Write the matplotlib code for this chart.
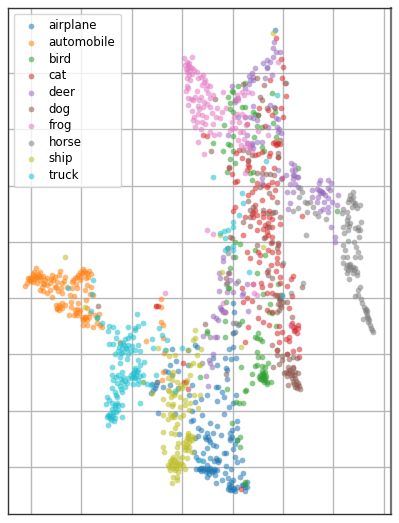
import matplotlib
matplotlib.use('Agg')
import matplotlib.pyplot as plt
import numpy as np

class_names = ['airplane', 'automobile', 'bird', 'cat', 'deer', 'dog', 'frog', 'horse', 'ship', 'truck']

airplane = [(202,164),(203,155),(202,134),(204,135),(198,118),(202,120),(194,109),(200,108),(205,109),(182,109),
    (195,99),(196,97),(186,102),(196,88),(185,80),(187,80),(191,75),(193,70),(186,66),(176,72),(170,68),(205,72),
    (202,64),(198,60),(193,53),(171,52),(179,44),(186,41),(206,46),(206,39),(201,37),(199,34),(170,37),(176,34),
    (182,34),(190,32),(174,30),(178,27),(182,22),(185,21),(199,27),(204,23),(206,27),(202,18),(193,14),(195,14),
    (176,19),(172,14),(179,9),(186,7),(187,5),(172,6),(176,2),(179,-1),(204,10),(206,5),(211,7),(195,1),(172,-3),
    (177,-4),(182,-4),(186,-3),(200,-2),(176,-10),(184,-8),(191,-13),(194,-6),(197,-11),(202,-13),(209,-10),
    (212,-6),(216,-15),(198,-20),(201,-23),(206,-20),(211,-18),(214,-24),(185,-16),(168,-2),(170,-4),(174,-2),
    (175,-5),(180,-3),(183,-2),(178,-7),(198,-17),(200,-19),(203,-22),(197,-22),(141,118),(164,122),(166,120),
    (157,117),(145,106),(139,102),(157,102),(134,96),(137,95),(147,96),(141,92),(126,85),(121,83),(125,82),
    (124,79),(132,80),(139,82),(147,79),(161,82),(122,77),(120,74),(158,72),(164,65),(127,54),(144,53),(161,56),
    (162,47),(160,46),(167,39),(148,33),(164,29),(167,31),(163,15),(165,10),(167,7),(165,-2),(169,-2),(244,437),
    (170,-1),(172,-1),(176,-2),(178,-2),(181,-5),(184,-3),(200,-15),(199,-23),(202,-21),(204,-24),(183,6),(185,9),
    (188,7),(199,29),(201,30),(175,28),(177,30),(179,25),(212,-18),(214,-20),(216,-20)]

automobile = [(5,199),(2,193),(7,193),(12,191),(1,190),(5,189),(-2,187),(-4,184),(-6,181),(9,187),(14,187),(6,184),
    (2,185),(11,180),(9,177),(16,182),(21,192),(29,196),(28,192),(34,190),(22,187),(19,184),(26,185),(31,184),
    (24,180),(19,177),(16,174),(27,176),(21,170),(31,174),(41,185),(44,189),(47,192),(52,198),(56,194),(60,193),
    (51,194),(49,187),(46,179),(41,179),(39,172),(43,171),(55,189),(56,182),(54,177),(60,180),(62,172),(59,173),
    (31,164),(34,162),(26,159),(28,157),(31,159),(40,165),(47,164),(46,158),(49,157),(45,154),(38,152),(43,152),
    (55,167),(56,159),(54,150),(56,147),(52,142),(56,142),(62,140),(59,154),(64,152),(68,153),(66,144),(71,140),
    (69,142),(130,168),(125,161),(130,160),(130,145),(132,142),(115,126),(132,129),(89,125),(133,114),(132,95),
    (131,87),(-1,189),(4,191),(8,191),(16,189),(54,194),(57,190),(26,158),(52,147),(55,150),(36,180),(12,184),(24,190),
    (3,195),(9,195),(6,190),(10,190),(0,186),(-3,189),(3,188),(13,183),(20,188),(25,180),(30,179),(33,186),(42,187),
    (45,183),(50,190),(53,196),(58,196),(49,195),(46,190),(28,162),(29,160),(25,162),(44,157),(46,152),(48,155),
    (51,150),(53,148),(58,150),(40,160),(12,176)]

bird = [(226,115),(227,110),(231,110),(224,101),(226,102),(231,101),(234,100),(237,104),(229,92),(232,94),(234,95),
    (232,90),(234,89),(233,85),(236,85),(240,85),(228,90),(221,93),(221,84),(215,77),(214,76),(210,100),(205,65),
    (208,64),(212,64),(201,44),(209,30),(206,27),(209,20),(214,-15),(214,-17),(169,90),(196,78),(194,130),(224,130),
    (227,134),(226,129),(229,128),(231,126),(245,141),(211,146),(208,143),(194,146),(176,136),(176,134),(238,155),
    (241,154),(232,173),(239,163),(226,194),(247,183),(199,199),(197,179),(195,165),(194,155),(198,179),(201,376),
    (207,381),(202,375),(204,367),(199,364),(197,370),(214,384),(202,355),(211,360),(214,360),(199,358),(222,355),
    (224,353),(227,352),(244,355),(241,374),(242,344),(193,342),(226,341),(231,340),(202,331),(182,324),(197,323),
    (199,322),(192,316),(202,316),(204,304),(223,330),(231,320),(233,316),(245,330),(199,308),(196,295),(221,287),
    (219,294),(222,295),(267,299),(306,256),(204,225),(209,223),(224,217),(234,212),(204,210),(66,149),(112,85),
    (231,92),(233,92),(230,88),(232,87),(234,87),(236,83),(235,91),(231,96),(229,88)]

cat = [(245,429),(250,408),(252,400),(251,389),(254,384),(255,371),(239,387),(228,359),(250,359),(237,357),(241,352),
    (252,350),(234,341),(216,343),(242,324),(246,323),(249,323),(244,325),(172,332),(176,331),(231,315),(227,313),
    (224,312),(239,314),(238,311),(247,310),(208,317),(205,314),(211,309),(217,306),(217,302),(216,297),(232,299),
    (243,299),(198,299),(201,293),(206,286),(204,285),(251,289),(246,284),(241,285),(237,282),(232,282),(226,284),
    (224,279),(221,275),(217,272),(231,267),(224,262),(241,270),(244,277),(204,260),(202,256),(222,255),(224,257),
    (214,250),(222,250),(232,254),(241,254),(271,251),(249,243),(237,244),(234,242),(236,235),(241,240),(234,230),
    (241,230),(237,232),(226,237),(212,232),(216,215),(227,215),(237,217),(241,215),(247,222),(247,215),(246,209),
    (219,209),(229,212),(228,205),(240,202),(246,204),(251,202),(245,196),(236,195),(249,190),(262,191),(260,188),
    (256,181),(249,184),(239,182),(230,184),(231,180),(211,179),(236,174),(241,174),(261,171),(246,172),(222,183),
    (212,165),(221,166),(236,157),(241,155),(258,159),(227,149),(232,145),(238,142),(217,140),(248,141),(261,144),
    (262,140),(264,137),(267,139),(266,134),(251,135),(246,134),(258,130),(255,128),(248,125),(214,125),(262,116),
    (268,118),(268,110),(256,113),(246,117),(155,85),(153,85),(152,104),(157,78),(210,-22),(125,161),(127,161),
    (216,169),(249,169),(247,324),(245,322),(263,136),(267,142),(258,126),(238,256),(232,250),(228,245),(241,248),
    (238,250),(221,253),(226,252),(236,240),(232,238),(240,224),(263,140),(260,142),(236,280),(218,300)]

deer = [(243,425),(242,419),(245,415),(249,415),(236,407),(232,404),(239,405),(224,399),(236,399),(241,392),(221,394),
    (219,387),(222,387),(234,389),(218,383),(214,379),(201,381),(204,365),(207,369),(222,361),(239,362),(243,360),
    (207,350),(214,350),(219,350),(226,347),(245,349),(247,348),(237,340),(247,335),(250,334),(216,332),(197,332),
    (216,324),(221,324),(219,320),(231,325),(226,325),(222,319),(247,297),(260,304),(263,302),(261,297),(264,297),
    (267,290),(262,292),(255,292),(250,288),(259,283),(264,283),(267,280),(266,290),(231,289),(231,284),(256,275),
    (262,275),(259,264),(257,258),(289,287),(297,287),(288,284),(300,284),(281,277),(286,278),(291,275),(289,274),
    (292,274),(297,279),(299,277),(281,270),(287,270),(286,265),(293,265),(297,269),(301,265),(307,272),(306,262),
    (297,260),(297,255),(292,258),(289,256),(300,240),(304,230),(304,225),(192,210),(192,206),(188,194),(189,189),
    (197,194),(205,184),(188,176),(196,175),(202,175),(212,174),(211,172),(216,183),(217,156),(189,160),(191,157),
    (192,155),(194,155),(182,151),(185,149),(187,147),(172,131),(184,130),(186,130),(182,113),(178,107),(179,104),
    (181,100),(175,91),(177,81),(290,276),(288,277),(294,272),(242,410),(236,400),(222,390),(218,391),(246,340),
    (248,338),(221,322),(263,292),(262,288),(222,349),(199,187),(190,158)]

dog = [(226,389),(212,383),(233,382),(229,370),(184,368),(231,367),(244,359),(236,359),(227,352),(249,327),(247,314),
    (180,316),(212,317),(217,315),(221,312),(247,310),(217,307),(198,300),(226,294),(231,294),(235,293),(239,293),
    (243,292),(229,280),(238,274),(246,265),(217,266),(222,260),(219,257),(232,257),(236,254),(244,255),(249,250),
    (219,250),(212,245),(219,241),(238,240),(233,229),(241,225),(247,224),(246,219),(226,222),(199,230),(201,229),
    (197,219),(237,197),(237,192),(241,189),(196,184),(195,189),(198,194),(271,180),(244,172),(249,172),(248,168),
    (252,165),(256,165),(249,162),(246,155),(248,157),(228,160),(261,150),(174,143),(241,122),(246,117),(246,112),
    (251,111),(256,113),(258,108),(262,110),(266,109),(248,103),(251,107),(242,100),(257,100),(262,99),(255,95),
    (257,94),(260,92),(264,95),(267,94),(261,89),(264,89),(262,85),(257,82),(266,82),(266,79),(269,78),(264,80),
    (195,93),(253,94),(259,96),(67,161),(258,97),(256,91),(261,94),(263,92),(265,86),(267,84),(268,81),(263,83),
    (249,167),(250,160),(247,163),(262,100)]

frog = [(161,410),(153,409),(156,405),(158,404),(154,402),(157,399),(161,399),(156,395),(166,395),(161,393),(156,389),
    (159,387),(167,389),(156,381),(157,379),(155,376),(166,376),(157,369),(160,368),(162,367),(157,362),(168,367),
    (167,361),(161,356),(167,353),(163,350),(166,345),(162,347),(164,340),(167,325),(172,392),(176,382),(179,381),
    (174,387),(171,382),(177,374),(182,372),(192,375),(179,369),(173,365),(172,360),(179,360),(181,354),(186,359),
    (191,355),(195,359),(189,349),(171,352),(171,345),(182,343),(174,343),(179,335),(183,332),(188,333),(173,313),
    (206,372),(211,375),(217,375),(207,367),(221,374),(214,350),(211,353),(206,353),(201,339),(204,339),(209,335),
    (212,335),(201,345),(207,327),(214,320),(217,324),(237,332),(227,336),(214,294),(219,319),(221,316),(247,405),
    (222,183),(223,174),(226,172),(192,164),(260,141),(176,237),(182,233),(194,155),(134,174),(199,337),
    (157,402),(159,400),(155,398),(158,396),(163,397),(158,392),(170,390),(173,385),(175,378),(164,370),(170,370),
    (176,363),(175,350),(168,358),(170,338),(185,350),(205,368),(213,372),(203,350),(208,345),(215,342),(213,328),(210,322)]

horse = [(271,275),(274,265),(276,264),(279,265),(276,255),(284,254),(287,251),(282,260),(269,279),(268,270),(262,256),
    (267,259),(295,248),(275,232),(322,275),(319,272),(322,270),(317,265),(324,264),(329,262),(321,260),(326,259),
    (312,258),(311,254),(316,255),(317,250),(316,247),(319,244),(330,245),(312,240),(317,237),(327,240),(329,237),
    (324,239),(313,234),(328,230),(323,225),(317,226),(312,222),(325,220),(314,217),(327,215),(316,210),(324,210),
    (329,210),(312,210),(255,384),(242,255),(312,204),(316,202),(319,203),(315,199),(317,197),(324,199),(326,195),
    (322,194),(326,192),(316,194),(318,188),(329,180),(327,177),(327,172),(324,171),(330,168),(331,164),(333,160),
    (335,155),(336,152),(332,148),(337,145),(339,142),(340,139),(342,135),(341,137),(336,150),(252,204),(207,186),
    (202,144),(205,144),(207,142),(179,130),(202,134),(171,104),(251,172),(260,174),(272,184),(195,183),(202,210),
    (197,214),(126,85),(319,200),(318,202),(322,200),(323,197),(320,198),(334,157),(335,158),(336,156),(337,149),
    (338,147),(320,268),(322,265),(318,268),(324,262),(318,241),(316,243),(327,237)]

ship = [(164,137),(164,129),(162,127),(127,119),(135,117),(157,117),(166,112),(144,112),(138,111),(162,104),(159,102),
    (168,102),(142,95),(141,92),(159,92),(137,89),(141,87),(156,87),(154,82),(151,79),(146,85),(137,77),(141,74),
    (144,74),(121,74),(163,72),(132,68),(149,70),(154,67),(137,63),(142,63),(141,61),(149,60),(154,62),(159,64),
    (167,59),(158,57),(132,52),(142,52),(141,50),(137,48),(149,50),(152,52),(146,43),(144,39),(132,35),(140,34),
    (144,33),(157,34),(160,31),(156,29),(158,25),(161,27),(147,24),(152,24),(156,22),(154,17),(157,17),(161,15),
    (146,20),(132,20),(133,15),(146,14),(142,10),(139,6),(144,5),(147,9),(151,10),(156,9),(137,2),(141,2),(146,4),
    (149,-1),(154,-2),(139,-3),(144,-3),(147,-5),(142,-10),(146,-10),(146,-13),(141,-16),(34,210),(191,195),(170,118),
    (210,120),(169,102),(169,72),(232,220),(189,232),(54,160),(242,434),(157,30),(159,28),(155,26),(153,20),(155,20),
    (158,20),(140,4),(141,8),(143,7),(145,2),(148,3),(142,-1),(145,-1),(138,0),(150,4),(152,2),(147,78),(150,82),
    (143,72),(140,70),(138,76),(143,50),(139,53),(157,32),(163,30)]

truck = [(106,153),(112,144),(107,141),(104,139),(97,140),(78,141),(82,140),(86,135),(77,136),(71,144),(62,187),(37,179),
    (61,173),(60,156),(66,150),(99,132),(104,137),(97,129),(102,130),(94,128),(85,129),(89,124),(78,123),(82,123),
    (93,122),(97,122),(107,122),(91,119),(95,119),(101,121),(87,116),(92,115),(97,113),(104,117),(109,116),(84,113),
    (89,110),(96,108),(107,107),(113,105),(109,102),(81,100),(89,104),(104,99),(91,95),(81,92),(102,94),(106,95),
    (107,97),(112,92),(87,92),(82,87),(92,90),(97,89),(101,89),(104,89),(107,87),(86,84),(91,85),(96,84),(102,83),
    (107,83),(81,79),(89,81),(94,80),(91,75),(84,75),(86,70),(76,70),(78,67),(75,63),(81,64),(86,64),(91,62),(84,60),
    (81,58),(87,57),(77,52),(81,50),(84,49),(91,50),(76,50),(79,49),(83,46),(77,42),(109,64),(128,139),(131,132),
    (136,127),(121,128),(122,119),(134,117),(151,119),(125,92),(116,83),(120,82),(144,76),(169,7),(211,274),(212,264),
    (182,290),(235,306),(246,372),(208,252),(202,245),(197,237),(193,236),(189,234),(194,217),(202,221),(202,217),
    (196,219),(194,229),(202,240),(218,195),(251,171),(88,120),(92,124),(96,118),(90,114),(100,116),(103,94),(105,92),
    (103,90),(109,91),(100,92),(85,90),(90,88),(82,55),(79,53),(78,51),(80,47),(82,52),(85,55),(84,62),(87,62),(85,72),
    (94,86),(90,78),(104,97)]

all_points = [airplane, automobile, bird, cat, deer, dog, frog, horse, ship, truck]

fig = plt.figure(figsize=(3.99, 5.23), dpi=100)
ax = fig.add_axes([8 / 399, 9 / 523, 383 / 399, 506 / 523])

for name, pts in zip(class_names, all_points):
    pts = np.array(pts)
    ax.scatter(pts[:, 0], pts[:, 1], s=17, alpha=0.55, linewidths=0, label=name, zorder=2)

ax.set_xlim(-23, 360)
ax.set_ylim(-47, 459)
ax.set_xticks(np.arange(8) * 50.4)
ax.set_yticks(np.arange(8) * 56.3)
ax.tick_params(length=0, labelbottom=False, labelleft=False)
ax.grid(True, color='#b8b8b8', linewidth=1.0, zorder=0)
ax.set_axisbelow(True)
for s in ax.spines.values():
    s.set_linewidth(1.0)
    s.set_color('#333333')
ax.spines['right'].set_linewidth(1.6)
ax.spines['right'].set_color('#777777')

ax.legend(loc='upper left', bbox_to_anchor=(0.0, 1.0), fontsize=8.5, borderaxespad=0.5,
          labelspacing=0.31, handletextpad=0.5, handlelength=2.0, borderpad=0.45)

fig.savefig('out.png', dpi=100)
